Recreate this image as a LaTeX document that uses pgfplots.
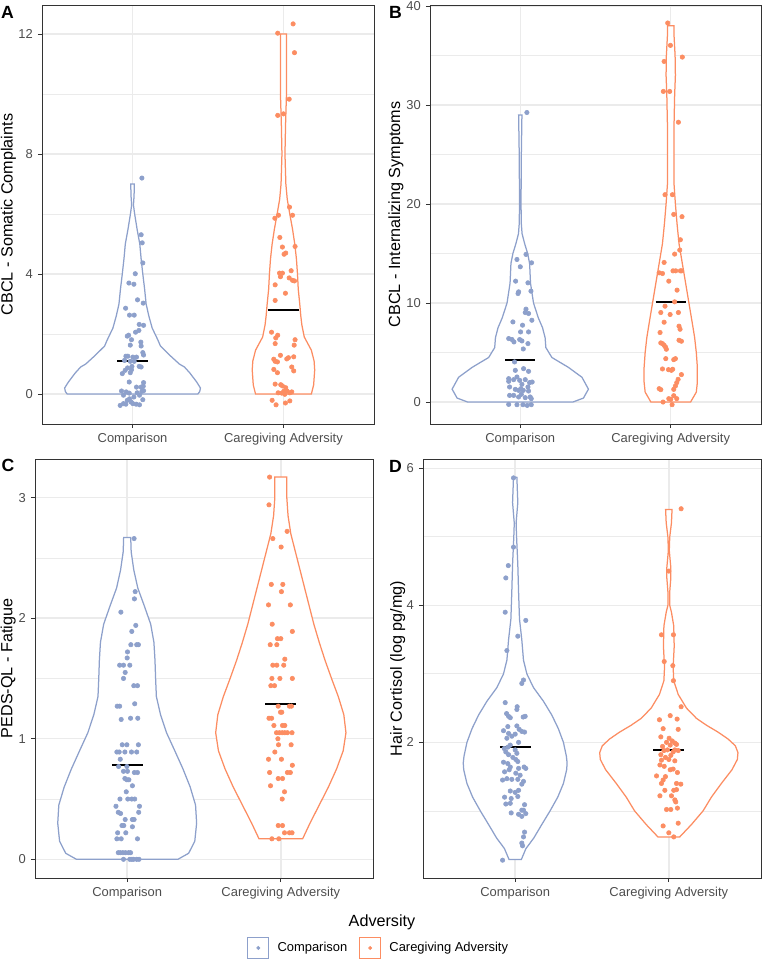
\documentclass[border=0pt]{standalone}
\usepackage{fontspec}
\setmainfont{Liberation Sans}
\usepackage{pgfplots}
\pgfplotsset{compat=1.18}
\usepackage{pgfplotstable}
\definecolor{cblue}{HTML}{8DA0CB}
\definecolor{corange}{HTML}{FC8D62}
\definecolor{gridc}{HTML}{EBEBEB}
\definecolor{tickc}{HTML}{4D4D4D}
\definecolor{borderc}{HTML}{333333}
\newlength\px
\setlength\px{0.68pt}

% violin outlines: y and signed half-width w (right side up, left side down)
\pgfplotstableread{
y w
0 0.433
0.08 0.445
0.2 0.45
0.4 0.425
0.7 0.38
0.9 0.344
1.0 0.31
1.3 0.245
1.6 0.185
1.8 0.168
2.2 0.13
2.6 0.108
3.0 0.09
3.5 0.08
4.0 0.068
4.5 0.057
5.0 0.048
5.5 0.03
6.0 0.014
6.3 0.006
6.6 0.010
7.0 0.012
7.0 -0.012
6.6 -0.010
6.3 -0.006
6.0 -0.014
5.5 -0.03
5.0 -0.048
4.5 -0.057
4.0 -0.068
3.5 -0.08
3.0 -0.09
2.6 -0.108
2.2 -0.13
1.8 -0.168
1.6 -0.185
1.3 -0.245
1.0 -0.31
0.9 -0.344
0.7 -0.38
0.4 -0.425
0.2 -0.45
0.08 -0.445
0 -0.433
}\vAc
\pgfplotstableread{
y w
0 0.185
0.3 0.2
0.8 0.207
1.1 0.203
1.46 0.185
1.9 0.138
2.3 0.122
2.6 0.115
3.0 0.108
3.5 0.098
4.0 0.093
4.5 0.086
5.0 0.075
5.5 0.06
6.0 0.042
6.5 0.025
7.0 0.016
8.0 0.01
9.0 0.014
10.0 0.02
11.0 0.02
12.0 0.02
12.0 -0.02
11.0 -0.02
10.0 -0.02
9.0 -0.014
8.0 -0.01
7.0 -0.016
6.5 -0.025
6.0 -0.042
5.5 -0.06
5.0 -0.075
4.5 -0.086
4.0 -0.093
3.5 -0.098
3.0 -0.108
2.6 -0.115
2.3 -0.122
1.9 -0.138
1.46 -0.185
1.1 -0.203
0.8 -0.207
0.3 -0.2
0 -0.185
}\vAg
\pgfplotstableread{
y w
0 0.35
0.4 0.42
1.3 0.453
2.5 0.41
3.5 0.32
4.5 0.21
5.5 0.17
6.5 0.165
7.5 0.148
8.5 0.12
10 0.088
12 0.068
14 0.062
15 0.049
16 0.029
17 0.012
18 0.007
20 0.005
25 0.007
29 0.011
29 -0.011
25 -0.007
20 -0.005
18 -0.007
17 -0.012
16 -0.029
15 -0.049
14 -0.062
12 -0.068
10 -0.088
8.5 -0.12
7.5 -0.148
6.5 -0.165
5.5 -0.17
4.5 -0.21
3.5 -0.32
2.5 -0.41
1.3 -0.453
0.4 -0.42
0 -0.35
}\vBc
\pgfplotstableread{
y w
0 0.132
1 0.17
2 0.177
3.5 0.177
5 0.17
6.5 0.159
8 0.143
10 0.121
12 0.099
14 0.077
16 0.055
18 0.042
20 0.031
22 0.022
25 0.022
28 0.022
31 0.026
33 0.031
35 0.029
37 0.022
38 0.022
38 -0.022
37 -0.022
35 -0.029
33 -0.031
31 -0.026
28 -0.022
25 -0.022
22 -0.022
20 -0.031
18 -0.042
16 -0.055
14 -0.077
12 -0.099
10 -0.121
8 -0.143
6.5 -0.159
5 -0.17
3.5 -0.177
2 -0.177
1 -0.17
0 -0.132
}\vBg
\pgfplotstableread{
y w
0 0.33
0.05 0.40
0.15 0.44
0.3 0.452
0.45 0.445
0.6 0.41
0.75 0.363
0.9 0.31
1.05 0.256
1.2 0.217
1.35 0.19
1.5 0.185
1.65 0.181
1.8 0.174
1.95 0.153
2.1 0.112
2.25 0.069
2.4 0.043
2.55 0.026
2.67 0.023
2.67 -0.023
2.55 -0.026
2.4 -0.043
2.25 -0.069
2.1 -0.112
1.95 -0.153
1.8 -0.174
1.65 -0.181
1.5 -0.185
1.35 -0.19
1.2 -0.217
1.05 -0.256
0.9 -0.31
0.75 -0.363
0.6 -0.41
0.45 -0.445
0.3 -0.452
0.15 -0.44
0.05 -0.40
0 -0.33
}\vCc
\pgfplotstableread{
y w
0.17 0.142
0.3 0.19
0.45 0.25
0.6 0.31
0.75 0.363
0.9 0.406
1.05 0.424
1.2 0.41
1.35 0.374
1.5 0.33
1.65 0.288
1.8 0.25
1.95 0.215
2.1 0.185
2.25 0.155
2.4 0.125
2.55 0.095
2.7 0.065
2.85 0.047
3.0 0.039
3.17 0.039
3.17 -0.039
3.0 -0.039
2.85 -0.047
2.7 -0.065
2.55 -0.095
2.4 -0.125
2.25 -0.155
2.1 -0.185
1.95 -0.215
1.8 -0.25
1.65 -0.288
1.5 -0.33
1.35 -0.374
1.2 -0.41
1.05 -0.424
0.9 -0.406
0.75 -0.363
0.6 -0.31
0.45 -0.25
0.3 -0.19
0.17 -0.142
}\vCg
\pgfplotstableread{
y w
0.29 0.04
0.45 0.07
0.6 0.12
0.8 0.173
1.0 0.227
1.2 0.277
1.4 0.314
1.6 0.335
1.7 0.338
1.8 0.333
2.0 0.314
2.2 0.281
2.4 0.238
2.6 0.184
2.8 0.119
3.0 0.076
3.2 0.054
3.5 0.043
3.8 0.028
4.2 0.022
4.6 0.017
5.0 0.009
5.2 0.006
5.5 0.017
5.87 0.011
5.87 -0.011
5.5 -0.017
5.2 -0.006
5.0 -0.009
4.6 -0.017
4.2 -0.022
3.8 -0.028
3.5 -0.043
3.2 -0.054
3.0 -0.076
2.8 -0.119
2.6 -0.184
2.4 -0.238
2.2 -0.281
2.0 -0.314
1.8 -0.333
1.7 -0.338
1.6 -0.335
1.4 -0.314
1.2 -0.277
1.0 -0.227
0.8 -0.173
0.6 -0.12
0.45 -0.07
0.29 -0.04
}\vDc
\pgfplotstableread{
y w
0.62 0.071
0.8 0.147
1.0 0.223
1.2 0.277
1.4 0.342
1.6 0.411
1.75 0.446
1.85 0.45
1.95 0.433
2.05 0.385
2.15 0.32
2.25 0.245
2.35 0.18
2.5 0.115
2.7 0.061
2.9 0.032
3.1 0.028
3.4 0.035
3.7 0.032
3.9 0.017
4.0 0.006
4.2 0.006
4.4 0.013
4.55 0.013
4.8 0.003
5.0 0.006
5.2 0.017
5.4 0.021
5.4 -0.021
5.2 -0.017
5.0 -0.006
4.8 -0.003
4.55 -0.013
4.4 -0.013
4.2 -0.006
4.0 -0.006
3.9 -0.017
3.7 -0.032
3.4 -0.035
3.1 -0.028
2.9 -0.032
2.7 -0.061
2.5 -0.115
2.35 -0.18
2.25 -0.245
2.15 -0.32
2.05 -0.385
1.95 -0.433
1.85 -0.45
1.75 -0.446
1.6 -0.411
1.4 -0.342
1.2 -0.277
1.0 -0.223
0.8 -0.147
0.62 -0.071
}\vDg

\pgfplotsset{
  panel/.style={
    scale only axis,
    anchor=north west,
    xmin=0.4, xmax=2.6,
    xtick={1,2}, xticklabels={Comparison, Caregiving Adversity},
    tick align=outside, tick pos=left,
    major tick length=2.75pt, minor tick length=0pt,
    tick style={draw=borderc, line width=0.6pt},
    axis line style={draw=borderc, line width=0.6pt},
    xmajorgrids, ymajorgrids, yminorgrids,
    major grid style={draw=gridc, line width=1.0pt},
    minor grid style={draw=gridc, line width=0.5pt},
    ticklabel style={font=\fontsize{8.8}{10}\selectfont, text=tickc},
    /pgf/number format/assume math mode=true,
    label style={font=\fontsize{11}{13}\selectfont},
    ylabel style={anchor=center},
  },
  vio/.style={line width=0.85pt, fill=white},
  pts/.style={only marks, mark=*, mark size=1.5pt},
  mean/.style={black, line width=1.3pt},
}

\begin{document}
\begin{tikzpicture}
\useasboundingbox (0,0) rectangle (764\px,-960\px);

% ---------------- A ----------------
\begin{axis}[panel, at={(42\px,-5\px)}, width=332\px, height=419\px,
  ymin=-1.0, ymax=12.97, ytick={0,4,8,12}, minor ytick={2,6,10},
  ylabel={CBCL - Somatic Complaints},
  ylabel style={at={(axis description cs:-0.101,0.5)}}]
\addplot[draw=cblue, vio] table[x expr=1+\thisrow{w}, y=y] {\vAc} -- cycle;
\addplot[draw=corange, vio] table[x expr=2+\thisrow{w}, y=y] {\vAg} -- cycle;
\addplot[pts, color=cblue] coordinates {
(1.062,7.20)(1.057,5.31)(1.064,5.04)(1.068,4.37)(1.018,4.01)(0.976,3.70)(1.009,3.66)
(1.033,3.14)(1.071,3.03)(0.954,2.86)(0.980,2.63)(1.011,2.63)(1.044,2.32)(1.073,2.29)
(1.042,2.12)(1.020,2.06)(0.965,1.93)(0.974,1.96)(0.993,1.81)(1.055,1.73)(1.057,1.60)
(0.985,1.63)(1.068,1.38)(0.956,1.26)(0.969,1.26)(1.002,1.23)(1.026,1.23)(1.073,1.30)
(0.947,1.12)(0.985,1.09)(1.011,1.09)(1.044,0.92)(1.057,0.90)(0.996,0.92)(0.967,0.87)
(0.993,0.81)(0.951,0.79)(0.932,0.68)(0.985,0.71)(0.978,0.40)(1.073,0.38)(1.026,0.23)
(1.057,0.23)(1.071,0.26)(0.927,0.10)(0.958,0.07)(0.978,0.03)(1.031,0.04)(1.062,0.09)
(1.073,0.11)(1.046,-0.04)(0.940,-0.04)(1.009,-0.10)(0.965,-0.21)(0.980,-0.16)(1.068,-0.19)
(0.918,-0.38)(0.940,-0.32)(0.956,-0.34)(0.991,-0.27)(1.002,-0.32)(1.024,-0.34)(1.046,-0.36)
};
\addplot[pts, color=corange] coordinates {
(2.064,12.34)(1.962,12.03)(2.073,11.38)(2.038,9.83)(1.962,9.29)(2.000,9.34)(2.040,6.23)
(2.060,5.96)(1.943,5.86)(1.967,5.96)(1.976,5.22)(1.993,4.90)(2.077,4.92)(2.004,4.66)
(2.015,4.70)(2.051,4.11)(1.974,4.03)(1.993,4.03)(1.980,3.91)(2.038,3.87)(2.060,3.79)
(2.073,3.77)(1.945,3.64)(2.013,3.36)(1.945,3.12)(1.921,2.06)(1.962,1.96)(1.949,1.87)
(2.077,1.81)(1.945,1.68)(2.071,1.63)(1.980,1.29)(2.033,1.21)(2.068,1.24)(2.022,1.17)
(1.936,1.16)(1.945,1.09)(1.960,1.07)(1.936,0.82)(1.960,0.71)(2.055,0.90)(2.068,0.77)
(1.945,0.33)(1.982,0.31)(1.993,0.27)(2.015,0.21)(2.002,0.09)(2.024,0.10)(2.042,0.04)
(2.055,0.07)(1.965,0.04)(1.989,0.03)(2.009,-0.01)(1.925,-0.21)(1.951,-0.36)(2.013,-0.30)
(2.042,-0.23)
};
\addplot[mean] coordinates {(0.9,1.11)(1.1,1.11)};
\addplot[mean] coordinates {(1.9,2.79)(2.1,2.79)};
\end{axis}

% ---------------- B ----------------
\begin{axis}[panel, at={(430\px,-5\px)}, width=331\px, height=419\px,
  ymin=-2.22, ymax=40.1, ytick={0,10,20,30,40}, minor ytick={5,15,25,35},
  ylabel={CBCL - Internalizing Symptoms},
  ylabel style={at={(axis description cs:-0.103,0.5)}}]
\addplot[draw=cblue, vio] table[x expr=1+\thisrow{w}, y=y] {\vBc} -- cycle;
\addplot[draw=corange, vio] table[x expr=2+\thisrow{w}, y=y] {\vBg} -- cycle;
\addplot[pts, color=cblue] coordinates {
(1.044,29.24)(1.038,14.91)(0.978,14.40)(1.075,14.06)(1.000,13.66)(0.969,12.21)(1.051,12.04)
(1.071,11.20)(0.989,11.13)(0.985,10.96)(1.038,9.38)(1.033,9.04)(1.055,8.94)(0.951,8.09)
(1.077,8.26)(1.015,7.76)(1.002,7.08)(1.055,7.08)(0.923,6.41)(0.945,6.31)(0.958,6.07)
(0.996,6.31)(1.011,6.17)(1.051,5.90)(1.020,5.36)(0.962,4.05)(0.967,3.20)(1.022,3.37)
(1.055,3.10)(0.923,2.36)(0.923,2.09)(0.956,2.26)(0.978,2.53)(0.996,2.19)(1.033,2.26)
(1.062,1.96)(1.079,2.02)(1.011,1.79)(0.929,1.52)(0.967,1.28)(0.989,1.18)(1.004,1.35)
(1.020,1.18)(1.051,1.52)(1.055,1.11)(0.929,0.67)(0.956,0.67)(0.989,0.51)(1.007,0.78)
(1.033,0.44)(1.066,0.51)(1.073,0.34)(0.923,-0.24)(0.978,-0.27)(1.018,-0.27)(1.046,-0.34)
(1.073,-0.27)
};
\addplot[pts, color=corange] coordinates {
(1.980,38.28)(1.998,36.02)(1.956,34.40)(2.077,34.84)(1.951,31.37)(1.993,31.37)(2.051,28.26)
(1.962,20.94)(2.011,20.94)(2.020,18.95)(2.075,18.72)(2.064,16.39)(2.060,15.35)(2.026,14.94)
(1.956,14.10)(1.923,13.05)(1.945,12.98)(2.015,13.25)(2.033,13.25)(2.064,13.25)(2.073,13.25)
(1.987,12.21)(2.042,11.30)(2.026,10.12)(1.962,9.68)(1.934,9.04)(1.996,8.84)(2.051,9.04)
(1.956,8.06)(2.055,7.66)(2.062,7.35)(1.929,7.02)(1.934,5.97)(1.945,5.90)(1.956,5.73)
(1.965,5.56)(1.971,5.33)(2.055,6.24)(2.071,6.14)(1.967,4.38)(2.020,4.28)(2.031,4.38)
(1.945,3.34)(1.985,3.27)(2.004,3.20)(2.013,3.31)(2.071,2.77)(2.049,2.29)(2.040,1.96)
(2.031,1.62)(2.020,1.28)(1.923,1.35)(1.934,1.25)(2.020,0.64)(2.040,0.34)(1.987,0.34)
(2.000,0.27)(1.949,0.00)(2.009,-0.27)
};
\addplot[mean] coordinates {(0.9,4.2)(1.1,4.2)};
\addplot[mean] coordinates {(1.9,10.1)(2.1,10.1)};
\end{axis}

% ---------------- C ----------------
\begin{axis}[panel, at={(35\px,-459\px)}, width=338\px, height=419\px,
  ymin=-0.155, ymax=3.32, ytick={0,1,2,3}, minor ytick={0.5,1.5,2.5},
  ylabel={PEDS-QL - Fatigue},
  ylabel style={at={(axis description cs:-0.079,0.5)}},
  legend style={at={(axis description cs:1.018,-0.167)}, anchor=center,
    draw=none, fill=none, legend columns=2,
    font=\fontsize{8.8}{10}\selectfont,
    /tikz/every odd column/.append style={column sep=3.5pt},
    /tikz/every even column/.append style={column sep=6pt}},
  legend cell align=left]
\addlegendimage{legend image code/.code={
  \draw[cblue, fill=white, line width=0.75pt] (0pt,-7.2pt) rectangle (14.4pt,7.2pt);
  \fill[cblue] (7.2pt,0pt) circle (1.1pt);}}
\addlegendimage{legend image code/.code={
  \draw[corange, fill=white, line width=0.75pt] (0pt,-7.2pt) rectangle (14.4pt,7.2pt);
  \fill[corange] (7.2pt,0pt) circle (1.1pt);}}
\addlegendentry{Comparison}
\addlegendentry{Caregiving Adversity}
\addplot[draw=cblue, vio] table[x expr=1+\thisrow{w}, y=y] {\vCc} -- cycle;
\addplot[draw=corange, vio] table[x expr=2+\thisrow{w}, y=y] {\vCg} -- cycle;
\addplot[pts, color=cblue] coordinates {
(1.045,2.66)(1.052,2.22)(1.047,2.16)(0.959,2.05)(1.056,1.94)(1.030,1.89)(1.024,1.78)
(1.062,1.78)(1.073,1.78)(1.002,1.72)(1.000,1.67)(0.951,1.61)(0.976,1.61)(1.017,1.61)
(0.987,1.55)(0.976,1.50)(1.043,1.44)(1.067,1.44)(1.049,1.29)(0.935,1.27)(0.951,1.27)
(0.961,1.16)(1.022,1.17)(1.069,1.17)(0.968,0.95)(0.998,0.95)(1.073,0.95)(0.933,0.89)
(0.948,0.89)(0.985,0.89)(1.028,0.89)(1.062,0.89)(0.955,0.83)(0.944,0.77)(0.998,0.77)
(0.976,0.73)(1.002,0.73)(1.047,0.72)(1.067,0.72)(0.985,0.67)(0.998,0.66)(1.011,0.66)
(1.034,0.61)(0.994,0.56)(0.953,0.50)(1.004,0.50)(1.030,0.50)(1.049,0.50)(0.927,0.44)
(1.080,0.44)(0.942,0.39)(0.957,0.38)(1.075,0.39)(0.987,0.33)(1.034,0.33)(1.045,0.33)
(0.966,0.28)(0.978,0.28)(1.034,0.27)(0.938,0.22)(0.991,0.22)(0.933,0.17)(0.961,0.17)
(1.067,0.17)(0.942,0.055)(0.955,0.055)(0.972,0.055)(0.989,0.055)(1.009,0.055)(1.022,0.055)
(0.976,0.0)(1.017,0.0)(1.030,0.0)(1.041,0.0)(1.062,0.0)(1.077,0.0)
};
\addplot[pts, color=corange] coordinates {
(1.927,3.17)(1.923,2.94)(2.041,2.72)(1.948,2.66)(2.002,2.59)(1.938,2.28)(2.013,2.28)
(2.004,2.22)(1.920,2.11)(2.062,2.11)(1.944,1.95)(2.075,1.89)(1.978,1.83)(2.000,1.83)
(1.931,1.78)(1.974,1.78)(2.026,1.66)(1.948,1.61)(1.974,1.61)(2.019,1.61)(1.942,1.50)
(1.994,1.50)(2.075,1.50)(1.935,1.44)(1.959,1.44)(1.983,1.27)(2.056,1.27)(2.069,1.27)
(2.006,1.22)(1.998,1.22)(1.923,1.17)(1.940,1.17)(1.955,1.11)(2.011,1.11)(2.026,1.11)
(1.972,1.05)(1.991,1.05)(2.009,1.05)(2.026,1.05)(2.043,1.05)(2.073,1.05)(1.981,1.00)
(1.985,0.95)(2.067,0.95)(1.961,0.89)(1.920,0.83)(2.004,0.83)(2.075,0.78)(1.927,0.72)
(2.043,0.72)(2.062,0.72)(1.983,0.67)(2.011,0.67)(1.933,0.61)(2.024,0.56)(2.009,0.50)
(1.983,0.28)(2.011,0.28)(2.024,0.22)(2.056,0.22)(2.073,0.22)(1.942,0.17)(1.987,0.17)
};
\addplot[mean] coordinates {(0.9,0.78)(1.1,0.78)};
\addplot[mean] coordinates {(1.9,1.29)(2.1,1.29)};
\end{axis}

% ---------------- D ----------------
\begin{axis}[panel, at={(423\px,-459\px)}, width=338\px, height=419\px,
  ymin=0.02, ymax=6.136, ytick={2,4,6}, minor ytick={1,3,5},
  ylabel={Hair Cortisol (log pg/mg)},
  ylabel style={at={(axis description cs:-0.075,0.5)}}]
\addplot[draw=cblue, vio] table[x expr=1+\thisrow{w}, y=y] {\vDc} -- cycle;
\addplot[draw=corange, vio] table[x expr=2+\thisrow{w}, y=y] {\vDg} -- cycle;
\addplot[pts, color=cblue] coordinates {
(0.989,5.86)(0.989,4.85)(0.955,4.58)(0.939,4.40)(0.935,3.90)(1.069,3.78)(1.017,3.55)
(0.946,3.34)(1.054,2.91)(1.043,2.86)(0.935,2.58)(1.013,2.52)(1.011,2.48)(0.944,2.42)
(0.957,2.38)(0.968,2.36)(1.052,2.37)(1.065,2.38)(0.952,2.23)(1.011,2.24)(1.026,2.19)
(0.924,2.17)(0.957,2.13)(1.000,2.12)(1.043,2.16)(1.061,2.15)(0.978,2.09)(0.946,2.06)
(1.022,2.00)(0.968,1.96)(0.929,1.91)(0.952,1.93)(1.000,1.89)(1.011,1.84)(0.939,1.86)
(0.957,1.82)(0.985,1.78)(1.004,1.75)(1.017,1.72)(0.924,1.71)(0.952,1.69)(0.968,1.64)
(1.022,1.62)(1.058,1.64)(1.069,1.62)(0.931,1.57)(0.961,1.60)(1.004,1.55)(1.032,1.52)
(0.918,1.45)(0.946,1.47)(0.978,1.46)(1.017,1.46)(1.054,1.43)(1.043,1.39)(0.968,1.29)
(1.000,1.27)(1.022,1.30)(0.931,1.20)(0.974,1.18)(1.017,1.21)(0.939,1.10)(0.968,1.11)
(1.061,1.09)(1.043,1.01)(1.054,1.01)(0.974,0.97)(1.022,0.95)(1.043,0.92)(1.069,0.96)
(1.061,0.69)(1.054,0.62)(1.043,0.53)(1.048,0.49)(0.918,0.28)
};
\addplot[pts, color=corange] coordinates {
(2.080,5.41)(2.000,4.50)(1.952,3.57)(2.030,3.57)(1.970,3.18)(2.026,3.12)(2.030,2.90)
(2.080,2.52)(2.009,2.39)(1.939,2.33)(2.054,2.34)(1.963,2.20)(2.061,2.19)(1.948,2.08)
(2.002,2.06)(2.022,2.02)(2.039,1.99)(1.985,2.00)(1.959,1.94)(2.009,1.96)(2.050,1.97)
(1.968,1.88)(1.991,1.89)(2.028,1.86)(2.039,1.89)(2.061,1.88)(1.948,1.82)(2.013,1.81)
(1.978,1.78)(1.952,1.74)(2.000,1.75)(2.039,1.73)(1.942,1.67)(1.970,1.65)(2.028,1.61)
(2.009,1.60)(1.920,1.51)(1.978,1.50)(1.963,1.45)(2.056,1.56)(2.078,1.39)(1.952,1.40)
(2.050,1.40)(1.974,1.30)(2.032,1.30)(2.050,1.31)(1.942,1.22)(2.017,1.22)(2.039,1.16)
(1.985,1.02)(2.013,1.02)(2.056,1.04)(2.045,1.13)(1.963,0.78)(2.061,0.82)(2.000,0.68)
(2.032,0.62)
};
\addplot[mean] coordinates {(0.9,1.93)(1.1,1.93)};
\addplot[mean] coordinates {(1.9,1.89)(2.1,1.89)};
\end{axis}

% panel tags and legend title
\node[font=\bfseries\fontsize{12}{14}\selectfont] at (7.5\px,-12.5\px) {A};
\node[font=\bfseries\fontsize{12}{14}\selectfont] at (395.5\px,-12.5\px) {B};
\node[font=\bfseries\fontsize{12}{14}\selectfont] at (8\px,-465.5\px) {C};
\node[font=\bfseries\fontsize{12}{14}\selectfont] at (395.5\px,-466\px) {D};
\node[font=\fontsize{11}{13}\selectfont] at (382\px,-922\px) {Adversity};
\end{tikzpicture}
\end{document}
